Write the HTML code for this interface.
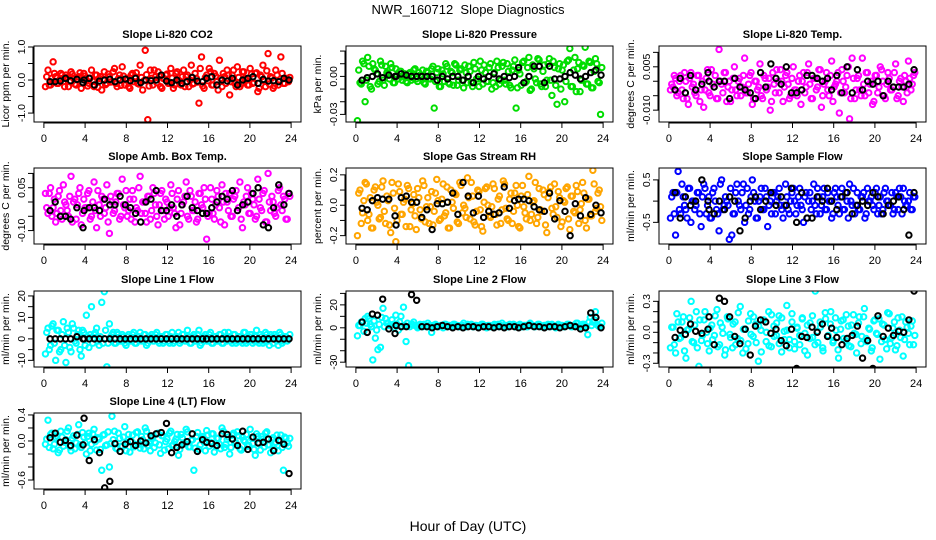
<!DOCTYPE html>
<html><head><meta charset="utf-8"><style>
html,body{margin:0;padding:0;background:#fff;}
svg{display:block;font-family:"Liberation Sans",Arial,sans-serif;}
</style></head><body>
<svg id="chart" width="936" height="540" xmlns="http://www.w3.org/2000/svg">
<text x="468" y="14" text-anchor="middle" font-size="13" style="white-space:pre">NWR_160712  Slope Diagnostics</text>
<text x="468" y="531" text-anchor="middle" font-size="14">Hour of Day (UTC)</text>
</svg>
<script>
const blackHours=[0.6,1.1,1.6,2.1,2.6,3.2,3.8,3.9,4.4,4.9,5.4,5.9,6.4,6.9,7.4,7.9,8.4,8.9,9.4,9.9,10.4,10.9,11.4,11.9,12.4,12.9,13.4,13.9,14.4,14.9,15.4,15.8,16.3,16.8,17.3,17.8,18.3,18.8,19.3,19.8,20.3,20.8,21.3,21.8,22.3,22.8,23.3,23.8];
const xTicks=[0,4,8,12,16,20,24];
const titles=["Slope Li-820 CO2","Slope Li-820 Pressure","Slope Li-820 Temp.","Slope Amb. Box Temp.","Slope Gas Stream RH","Slope Sample Flow","Slope Line 1 Flow","Slope Line 2 Flow","Slope Line 3 Flow","Slope Line 4 (LT) Flow"];
const yTitles=["Licor ppm per min.","kPa per min.","degrees C per min.","degrees C per min.","percent per min.","ml/min per min.","ml/min per min.","ml/min per min.","ml/min per min.","ml/min per min."];
const colors=["#ff0000","#00dd00","#ff00ff","#ff00ff","#ffa500","#0000ff","#00ffff","#00ffff","#00ffff","#00ffff"];
const scales=[0.01,0.001,0.001,0.01,0.01,0.1,1,1,0.01,0.01];
const yLims=[[-1.27,1.03],[-0.036,0.024],[-0.0141,0.0122],[-0.147,0.119],[-0.255,0.245],[-1.01,0.78],[-13.1,22.3],[-34.2,32.1],[-0.336,0.40],[-0.738,0.43]];
const yTicks=[[-1,-0.5,0,0.5,1],[-0.03,-0.02,-0.01,0,0.01,0.02],[-0.01,-0.005,0,0.005,0.01],[-0.1,-0.05,0,0.05,0.1],[-0.2,-0.1,0,0.1,0.2],[-0.5,0,0.5],[-10,-5,0,5,10,15,20],[-30,-20,-10,0,10,20,30],[-0.3,-0.2,-0.1,0,0.1,0.2,0.3],[-0.6,-0.4,-0.2,0,0.2,0.4]];
const yLabelVals=[[-1,0,1],[-0.03,0],[-0.01,0.005],[-0.1,0.05],[-0.2,0,0.2],[-0.5,0.5],[-10,0,10,20],[-30,0,20],[-0.3,0,0.3],[-0.6,0,0.4]];
const yLabelText=[["-1.0","0.0","1.0"],["-0.03","0.00"],["-0.010","0.005"],["-0.10","0.05"],["-0.2","0.0","0.2"],["-0.5","0.5"],["-10","0","10","20"],["-30","0","20"],["-0.3","0.0","0.3"],["-0.6","0.0","0.4"]];
const s1=[-20,30,-15,55,10,-10,20,-5,15,-20,25,5,-15,10,-25,20,0,-10,30,-20,15,5,-30,25,-10,10,-5,35,-20,15,40,-15,5,-25,20,10,-10,45,-30,90,-120,30,-15,10,25,-20,5,15,-10,35,-25,20,0,-15,30,10,-20,45,-10,5,-70,70,-25,15,35,-15,20,-5,60,-20,10,30,-45,15,-10,40,-20,25,5,-15,35,-10,20,-35,15,45,-20,80,10,-25,30,-15,70,-10,5,-5];
const c1=[10,-15,5,20,-10,0,15,-20,8,-5,18,-12,3,22,-8,12,-18,6,-3,15,-22,10,2,-14,18,-6,25,-10,4,-16,12,0,-20,15,-5,22,-12,8,-2,16,-18,5,30,-8,12,-25,3,18,-10,6,-15,25,-3,10,-20,15,0,-12,20,-6,35,-18,8,-2,25,-15,12,-30,5,20,-10,15,-5,30,-20,8,-12,25,0,-15,18,-8,22,-25,10,-3,28,-12,6,-18,15,-5,20,-10,3,8];
const b1=[-5,-5,-3,5,-2,2,-8,0,5,-15,-3,0,2,-5,0,3,-2,5,-8,0,-2,0,15,-3,-8,0,-10,-5,8,-3,-5,5,10,-15,0,-3,5,-15,0,5,10,-10,2,-3,-2,-5,5,0];
const s2=[-35,-5,12,-20,15,-8,10,5,-6,12,-3,8,2,10,-5,6,-2,4,0,-4,2,-3,5,-2,3,0,-5,4,-2,6,-25,3,-8,5,-4,8,-6,3,10,-7,5,-3,9,-5,4,-8,6,-2,12,-6,3,-4,10,-5,-8,7,-3,11,-6,4,-9,8,-25,5,-7,12,-4,15,-10,6,-5,13,-8,9,-3,14,-15,7,-22,10,5,-20,12,22,-8,15,6,-12,9,23,-6,11,-9,14,-4,-30];
const c2=[5,-6,10,-3,8,-10,6,2,-4,9,-7,3,-2,7,-5,1,4,-3,2,-5,3,-1,6,-4,1,5,-6,3,-2,8,-4,6,-8,2,10,-5,4,-7,9,-3,6,-9,3,8,-5,11,-2,-8,5,9,-4,7,-10,3,12,-6,8,-3,10,-7,5,13,-9,2,11,-5,7,-11,9,-2,14,-6,4,-8,10,-3,12,-7,6,-10,9,-4,13,-8,5,-12,11,-3,8,-6,12,-9,4,10,-5,7];
const b2=[-3,-1,0,2,-1,1,0,0,2,1,0,0,0,0,0,-3,0,-2,0,0,-3,0,-5,0,-2,0,2,-2,0,-1,0,7,-5,0,8,8,-5,8,-2,-2,0,3,1,-2,0,3,5,1];
const s3=[-3,-2,1,-4,2,-6,0,-8,3,-1,-5,2,-3,-9,1,-4,4,-2,-6,11,-1,3,-7,0,-3,5,-5,1,-2,8,-4,2,-8,0,-3,6,-6,1,-2,-10,3,-4,0,4,-7,2,-1,-5,5,-3,0,-8,3,-2,6,-6,1,-3,4,-9,-1,3,-5,7,-2,0,-11,4,-4,2,-13,8,-6,1,-3,8,-5,3,-1,-8,2,-4,5,0,-6,3,-3,-2,6,-5,1,-7,0,7,-3,2];
const c3=[-1,2,-5,0,-3,3,-6,1,-2,-4,2,-7,0,-3,4,-5,-1,2,-6,0,-4,3,-2,-7,1,-3,0,-5,2,-4,-1,3,-6,0,-2,-5,2,-3,1,-7,-1,4,-4,0,-2,3,-6,1,-3,-5,2,0,-4,3,-1,-6,1,-2,4,-5,0,-3,2,-7,-1,3,-4,0,-2,5,-6,1,-3,2,-5,-1,3,-4,0,-7,2,-2,4,-5,-1,1,-3,3,-6,0,-2,2,-4,1,-1,3];
const b3=[-3,1,-4,2,-3,-1,3,0,-2,0,0,-6,1,-2,-3,-4,-6,3,-2,6,1,-1,5,-4,-4,-3,2,2,1,0,1,-3,2,-4,5,-4,4,-3,0,-1,0,-5,0,-2,-2,-2,-1,4];
const s4=[3,-4,5,-2,-7,2,-3,6,-1,-5,9,0,-6,3,-8,1,-2,4,-5,7,-9,-1,2,-4,6,-11,0,-3,3,-6,8,-2,-5,1,4,-7,-3,9,0,-4,2,-6,5,-1,-8,3,-3,1,-5,6,-2,-9,4,-4,0,7,-6,2,-3,-7,3,-1,5,-13,-4,1,-6,4,-2,6,-8,0,3,-5,2,-3,7,-9,-1,5,-4,1,-6,8,-2,3,-7,10,-3,0,-5,4,-1,2,-6,3];
const c4=[-2,3,-5,1,-4,4,-6,0,-3,2,-7,1,-1,5,-4,-2,3,-6,0,-3,4,-5,1,-2,-7,2,-4,0,3,-5,-1,4,-3,-6,1,-2,5,-4,0,-7,2,-3,3,-5,-1,4,-6,0,-2,3,-4,1,-8,-1,2,-5,4,-3,0,-6,3,-2,1,-5,5,-4,-1,2,-7,0,3,-3,-5,1,4,-2,-6,0,2,-4,3,-1,-5,1,-3,4,-7,0,2,-4,-2,5,-3,1,-6,2];
const b4=[-3,0,-5,-5,-6,-2,-9,-3,-2,-2,-3,1,-1,-1,2,-1,-2,-4,-7,0,1,4,-3,-3,-1,-5,-1,2,-2,-3,-4,-4,-2,0,2,1,4,-3,-1,0,3,5,-8,-9,-2,6,-1,3];
const s5=[-20,10,-5,15,-10,5,-15,12,0,-8,16,-12,3,-18,8,-24,14,-6,2,-14,11,-3,7,-16,5,-9,13,-1,-12,9,-4,17,-10,4,-7,12,-15,2,8,-11,15,-5,-2,18,-9,6,-13,10,-3,-17,11,0,-8,14,-6,4,-12,16,-2,-10,8,-4,13,-14,6,-1,-9,19,-6,3,-12,11,-4,7,-18,9,-2,14,-8,5,-11,2,12,-16,6,-5,9,-3,15,-10,4,-7,23,-4,8,-1];
const c5=[8,-12,3,14,-6,-15,10,2,-9,12,-4,6,-13,15,-2,-10,9,-6,4,13,-14,1,-7,11,-3,16,-11,5,-1,-13,8,3,-9,14,-5,-15,10,-2,7,-12,13,0,-8,5,15,-11,-4,9,-14,2,12,-7,-1,11,-13,6,-3,14,-9,4,-12,8,0,-15,13,-5,7,-10,2,15,-8,-3,10,-13,5,12,-6,-1,9,-14,3,11,-9,6,-4,13,-12,1,8,-15,4,-7,14,-2,10,-10];
const b5=[-2,-3,3,5,4,4,-7,-13,5,6,2,2,-8,-3,-16,1,1,2,8,-6,15,6,-5,6,-8,-4,-6,-5,12,-2,3,4,4,3,-1,-3,-4,8,-9,3,-4,-20,1,-7,5,-6,0,-5];
const s6=[-4,2,-8,7,-3,1,-2,3,-5,0,-1,2,-6,4,-3,1,-4,3,-2,-7,5,-1,0,-9,-8,-3,4,-1,2,-5,3,-2,5,0,-4,1,-2,3,-6,0,2,-3,1,-1,-4,4,-2,0,3,-3,1,-1,-5,2,0,-2,4,-3,1,-1,3,-2,0,-4,2,1,-3,3,-2,0,4,-1,-3,2,-2,1,-4,3,0,-1,2,-3,1,-2,3,0,-1,-3,2,-2,1,3,-1,0,-2,1];
const c6=[1,-3,2,-2,4,-1,-4,3,0,-2,2,-3,1,3,-1,-4,2,0,-3,4,-2,1,-1,3,-3,2,0,-2,4,-1,-3,1,2,-4,0,3,-2,1,-1,-3,2,0,3,-2,-1,1,-3,2,0,-1,3,-2,1,-4,2,0,-1,3,-3,1,-2,2,0,-3,3,-1,1,-2,2,-4,0,3,-1,-2,1,2,-3,0,1,-2,3,-1,-3,2,0,-1,2,-2,1,3,-3,0,-1,2,-2,1];
const b6=[2,-4,1,-1,0,5,0,-2,-3,0,-2,1,0,-7,-4,0,1,-2,0,2,-1,1,-1,3,-5,2,-4,-4,1,0,3,0,-2,1,2,-3,-1,0,-1,2,1,-3,-1,0,1,-2,-8,2];
const s7=[-7,5,-3,7,-10,4,-5,8,-11,3,-6,5,-2,4,-8,3,11,-4,15,2,5,-3,17,22,-13,7,2,-2,3,-1,2,-2,1,-1,2,-2,1,3,-1,2,-2,1,-1,2,-1,1,-2,2,-1,1,-2,1,3,-1,2,-1,1,-2,2,-1,4,-2,1,-1,2,-2,1,-1,2,-2,3,-1,1,-2,2,-1,1,-2,3,-1,2,-2,1,-1,2,-2,3,-1,2,-2,1,-3,2,-1,1,0];
const c7=[3,-5,6,-2,4,-6,2,-3,5,-4,7,-1,2,-5,4,-3,1,2,-2,3,-1,1,-2,4,-2,1,3,-2,2,-1,1,-3,2,-1,3,-2,1,-1,2,-3,1,2,-1,3,-2,1,-1,2,-2,3,-1,1,-2,2,-1,4,-2,1,-1,2,-3,1,2,-1,3,-2,1,-1,2,-2,1,3,-1,2,-2,1,-1,3,-2,1,2,-1,4,-2,1,-1,2,-3,1,2,-1,3,-2,1,-1,2];
const b7=[0,0,0,0,0,1,0,0,0,0,0,0,0,0,0,0,0,0,0,0,0,0,0,0,0,0,0,0,0,0,0,0,0,0,0,0,0,0,0,0,0,0,0,0,0,0,0,0];
const s8=[-7,2,5,8,10,3,-28,-9,-19,-17,17,8,4,2,3,11,-2,10,18,-12,-33,3,5,2,1,2,3,1,2,-4,1,2,1,2,3,1,2,1,3,2,1,2,1,3,2,1,2,1,2,3,1,2,1,2,1,3,2,1,2,1,2,3,1,2,1,2,1,3,2,1,2,3,1,2,1,2,3,1,2,1,2,1,3,2,1,2,4,1,3,2,-6,9,5,14,2,1];
const c8=[2,5,-3,4,8,1,6,-2,3,9,1,4,2,7,0,3,5,1,2,4,1,3,2,0,3,1,2,4,1,2,3,1,2,0,3,2,1,3,2,1,2,4,1,2,3,1,2,1,3,2,0,2,1,3,2,1,4,2,1,3,2,1,2,3,1,2,1,4,2,1,3,2,1,2,3,1,2,0,3,2,1,2,3,1,2,4,1,2,3,1,5,2,7,3,1,4];
const b8=[5,-4,12,11,25,-1,-5,2,1,1,29,24,1,1,0,1,2,1,0,1,0,1,1,0,1,1,0,1,0,1,1,0,1,2,1,1,0,1,1,0,1,2,1,-1,0,13,9,0];
const s9=[-15,5,-20,10,-5,15,-25,3,30,-10,20,-33,-8,12,0,-18,7,-3,22,-12,5,-22,15,-2,-15,10,-6,25,-20,3,-11,18,-4,8,-28,2,12,-9,20,-14,6,-3,16,-19,1,26,-7,10,-16,4,-12,14,-1,-22,9,-5,40,-10,5,-18,13,-3,20,-8,2,-25,11,-6,17,-13,7,-1,-20,15,-4,23,-9,3,-15,12,-2,-26,8,-7,19,-11,4,-17,14,-5,-23,10,-1,6,-12];
const c9=[5,-12,18,-6,10,-18,2,14,-9,7,-15,12,-3,20,-11,4,-7,16,-14,9,-1,-17,13,-5,8,-12,19,-8,3,-16,11,-2,15,-10,6,-19,12,0,-13,17,-4,9,-11,14,-7,2,-15,18,-9,5,-3,13,-18,7,-6,16,-12,1,10,-15,19,-4,8,-10,14,-17,3,12,-8,6,-14,17,-2,9,-11,15,-6,4,-18,11,-1,13,-9,7,-16,18,-5,10,-13,2,15,-7,5,-12,11,-3];
const b9=[-5,2,-2,8,1,-1,3,15,-12,33,30,15,-4,-11,3,-22,6,12,10,-1,3,-8,-13,3,-35,-4,-5,5,0,8,-4,4,-5,-12,-6,-3,6,-25,-8,-35,16,-4,4,-3,1,0,12,40];
const s10=[-5,32,10,-12,5,-18,15,-8,2,20,-15,8,-3,25,-10,6,-20,12,-5,18,-14,3,-45,10,-6,-40,38,15,-12,4,-8,22,-2,-17,9,-5,14,-11,2,20,-7,-15,6,-3,12,-19,8,-1,-12,15,-6,3,-22,10,-4,18,-9,1,-45,7,-13,5,-2,16,-8,11,-17,4,-5,20,-10,2,-20,9,-3,14,-12,6,-1,-8,18,-4,-22,7,-14,3,12,-6,-18,5,-2,-15,9,-45,4,-8];
const c10=[3,-10,12,-5,8,-14,6,-2,15,-9,4,-12,10,-6,13,-3,7,-15,11,-1,5,-13,9,-7,14,-4,2,-11,12,-8,6,-15,10,0,-9,13,-5,7,-12,15,-2,4,-10,11,-6,8,-14,3,12,-7,-1,10,-13,5,-4,14,-9,2,-11,13,-6,7,-15,9,-2,11,-8,4,-12,15,-5,6,-10,12,-3,8,-14,1,10,-7,5,-13,11,-4,7,-9,14,-6,2,-12,9,-1,-10,6,-3,4];
const b10=[5,12,-2,1,-7,9,-6,35,-30,2,-18,-72,-62,-4,-16,-5,-1,-7,0,-3,8,11,13,27,-18,-10,-6,-1,11,-16,2,-2,-4,-7,11,10,3,-7,15,-13,6,-3,-2,3,-15,1,-5,-50];
const series=[s1,s2,s3,s4,s5,s6,s7,s8,s9,s10];
const series2=[c1,c2,c3,c4,c5,c6,c7,c8,c9,c10];
const blacks=[b1,b2,b3,b4,b5,b6,b7,b8,b9,b10];

const NS="http://www.w3.org/2000/svg";
const svg=document.getElementById('chart');
const colLeft=[34,346,659], rowTop=[46,168,291,413], W=267, H=76;
function mk(tag,attrs,parent){const e=document.createElementNS(NS,tag);for(const k in attrs)e.setAttribute(k,attrs[k]);parent.appendChild(e);return e;}

for(let p=0;p<10;p++){
  const L=colLeft[p%3], T=rowTop[Math.floor(p/3)];
  const g=mk('g',{},svg);
  
  
  const xs=t=>L+W*(t+0.96)/25.92;
  const lo=yLims[p][0], hi=yLims[p][1];
  const ys=v=>T+H*(hi-v)/(hi-lo);
  const title=mk('text',{x:L+W/2,y:T-8,'text-anchor':'middle','font-size':'11','font-weight':'bold'},g);
  title.textContent=titles[p];
  
  
  const yt=mk('text',{transform:`translate(${L-25},${T+H/2}) rotate(-90)`,'text-anchor':'middle','font-size':'10.5'},g);
  yt.textContent=yTitles[p];
  
  
  const cp=mk('clipPath',{id:'c'+p},g);
  mk('rect',{x:L,y:T,width:W,height:H},cp);
  const pts=mk('g',{'clip-path':`url(#c${p})`},g);
  
  
  [series[p],series2[p]].forEach((s,k)=>{
    const n=s.length;
    for(let i=0;i<n;i++){
      const t=0.15+(i+k*0.5)*23.6/(n-1);
      const c=mk('circle',{cx:xs(t),cy:ys(s[i]*scales[p]),r:2.7,fill:'none',stroke:colors[p],'stroke-width':2},pts);
      
      
    }
  });
  const b=blacks[p], m=Math.min(b.length,blackHours.length);
  for(let i=0;i<m;i++){
    const c=mk('circle',{cx:xs(blackHours[i]),cy:ys(b[i]*scales[p]),r:2.7,fill:'none',stroke:'#000','stroke-width':2},pts);
    
    
  }
  const box=mk('rect',{x:L,y:T,width:W,height:H,fill:'none',stroke:'#000','stroke-width':1},g);
  
  
  mk('line',{x1:xs(0),x2:xs(24),y1:T+H+1,y2:T+H+1,stroke:'#000'},g);
  xTicks.forEach(t=>{
    mk('line',{x1:xs(t),x2:xs(t),y1:T+H,y2:T+H+6,stroke:'#000'},g);
    const tl=mk('text',{x:xs(t),y:T+H+20,'text-anchor':'middle','font-size':'11'},g);
    tl.textContent=t;
    
    
  });
  const yt0=yTicks[p];
  mk('line',{x1:L-1,x2:L-1,y1:ys(yt0[0]),y2:ys(yt0[yt0.length-1]),stroke:'#000'},g);
  yt0.forEach(v=>mk('line',{x1:L-6,x2:L,y1:ys(v),y2:ys(v),stroke:'#000'},g));
  yLabelVals[p].forEach((v,k)=>{
    const tl=mk('text',{transform:`translate(${L-9},${ys(v)}) rotate(-90)`,'text-anchor':'middle','font-size':'10.5'},g);
    tl.textContent=yLabelText[p][k];
    
    
  });
}
</script>
</body></html>
